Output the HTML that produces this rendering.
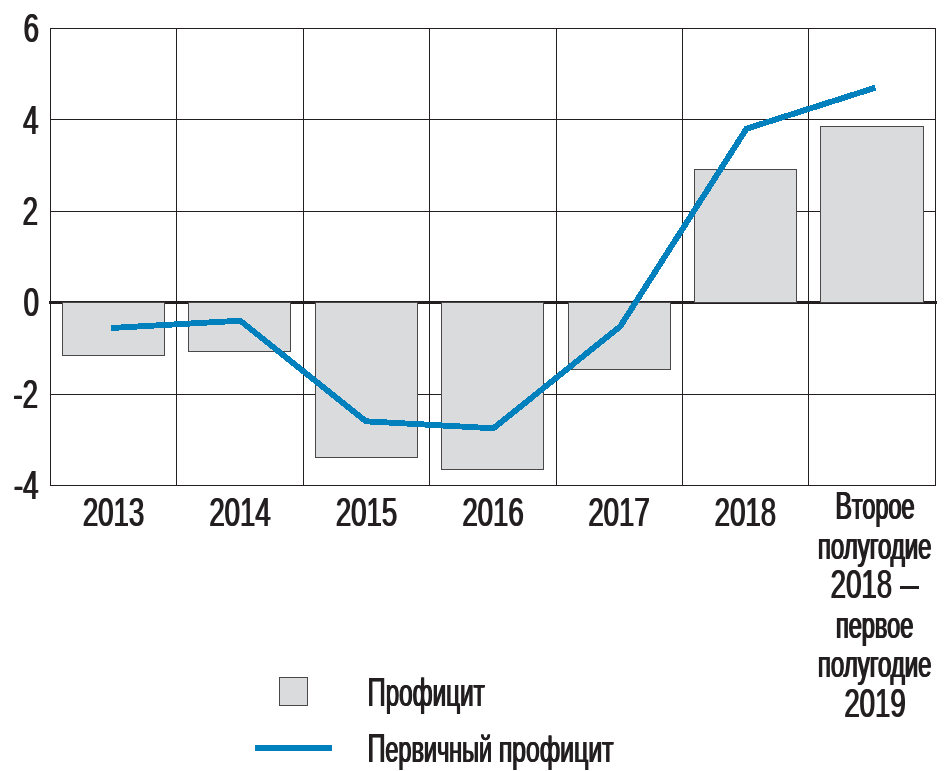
<!DOCTYPE html>
<html lang="ru"><head><meta charset="utf-8"><title>Chart</title>
<style>html,body{margin:0;padding:0;background:#fff;}body{width:948px;height:771px;overflow:hidden;}svg{display:block;will-change:transform;}text{font-family:"Liberation Sans",sans-serif;fill:#231f20;}</style>
</head><body>
<svg width="948" height="771" viewBox="0 0 948 771">
<rect x="0" y="0" width="948" height="771" fill="#ffffff"/>
<g stroke="#231f20" stroke-width="1" fill="none" shape-rendering="crispEdges">
<line x1="50.5" y1="28" x2="50.5" y2="486"/>
<line x1="176.5" y1="28" x2="176.5" y2="486"/>
<line x1="303.5" y1="28" x2="303.5" y2="486"/>
<line x1="429.5" y1="28" x2="429.5" y2="486"/>
<line x1="556.5" y1="28" x2="556.5" y2="486"/>
<line x1="682.5" y1="28" x2="682.5" y2="486"/>
<line x1="808.5" y1="28" x2="808.5" y2="486"/>
<line x1="935.5" y1="28" x2="935.5" y2="486"/>
<line x1="50" y1="28.5" x2="936" y2="28.5"/>
<line x1="50" y1="119.5" x2="936" y2="119.5"/>
<line x1="50" y1="211.5" x2="936" y2="211.5"/>
<line x1="50" y1="394.5" x2="936" y2="394.5"/>
<line x1="50" y1="485.5" x2="936" y2="485.5"/>
</g>
<rect x="49" y="301" width="888" height="3" fill="#231f20"/>
<g fill="#dadbdc" stroke="#4a4748" stroke-width="1" shape-rendering="crispEdges">
<rect x="62.5" y="302.5" width="102.0" height="53.0"/>
<rect x="188.5" y="302.5" width="102.0" height="49.0"/>
<rect x="315.5" y="302.5" width="102.0" height="155.0"/>
<rect x="441.5" y="302.5" width="102.0" height="167.0"/>
<rect x="568.5" y="302.5" width="102.0" height="67.0"/>
<rect x="694.5" y="169.5" width="102.0" height="133.0"/>
<rect x="820.5" y="126.5" width="103.0" height="176.0"/>
</g>
<polyline fill="none" stroke="#0080bc" stroke-width="5.9" stroke-linejoin="miter" stroke-linecap="butt" shape-rendering="crispEdges" points="111,328 240.3,320.7 365.8,421.3 493.5,428.3 620.3,326.3 746.5,128.7 875.3,87.7"/>
<text transform="translate(38.40,42.2) scale(0.67,1)" font-size="41.2" text-anchor="end">6</text>
<text aria-hidden="true" transform="translate(39.60,42.2) scale(0.67,1)" font-size="41.2" text-anchor="end">6</text>
<text transform="translate(37.90,133.9) scale(0.67,1)" font-size="41.2" text-anchor="end">4</text>
<text aria-hidden="true" transform="translate(39.10,133.9) scale(0.67,1)" font-size="41.2" text-anchor="end">4</text>
<text transform="translate(37.40,225) scale(0.67,1)" font-size="41.2" text-anchor="end">2</text>
<text aria-hidden="true" transform="translate(38.60,225) scale(0.67,1)" font-size="41.2" text-anchor="end">2</text>
<text transform="translate(38.40,316.3) scale(0.67,1)" font-size="41.2" text-anchor="end">0</text>
<text aria-hidden="true" transform="translate(39.60,316.3) scale(0.67,1)" font-size="41.2" text-anchor="end">0</text>
<text transform="translate(37.40,407.8) scale(0.67,1)" font-size="41.2" text-anchor="end">-2</text>
<text aria-hidden="true" transform="translate(38.60,407.8) scale(0.67,1)" font-size="41.2" text-anchor="end">-2</text>
<text transform="translate(37.90,499) scale(0.67,1)" font-size="41.2" text-anchor="end">-4</text>
<text aria-hidden="true" transform="translate(39.10,499) scale(0.67,1)" font-size="41.2" text-anchor="end">-4</text>
<text transform="translate(112.90,526) scale(0.6815,1)" font-size="40.5" text-anchor="middle">2013</text>
<text aria-hidden="true" transform="translate(114.10,526) scale(0.6815,1)" font-size="40.5" text-anchor="middle">2013</text>
<text transform="translate(239.40,526) scale(0.6815,1)" font-size="40.5" text-anchor="middle">2014</text>
<text aria-hidden="true" transform="translate(240.60,526) scale(0.6815,1)" font-size="40.5" text-anchor="middle">2014</text>
<text transform="translate(365.90,526) scale(0.6815,1)" font-size="40.5" text-anchor="middle">2015</text>
<text aria-hidden="true" transform="translate(367.10,526) scale(0.6815,1)" font-size="40.5" text-anchor="middle">2015</text>
<text transform="translate(492.40,526) scale(0.6815,1)" font-size="40.5" text-anchor="middle">2016</text>
<text aria-hidden="true" transform="translate(493.60,526) scale(0.6815,1)" font-size="40.5" text-anchor="middle">2016</text>
<text transform="translate(618.40,526) scale(0.6815,1)" font-size="40.5" text-anchor="middle">2017</text>
<text aria-hidden="true" transform="translate(619.60,526) scale(0.6815,1)" font-size="40.5" text-anchor="middle">2017</text>
<text transform="translate(744.80,526) scale(0.6815,1)" font-size="40.5" text-anchor="middle">2018</text>
<text aria-hidden="true" transform="translate(746.00,526) scale(0.6815,1)" font-size="40.5" text-anchor="middle">2018</text>
<text transform="translate(860.80,598) scale(0.6815,1)" font-size="40.5" text-anchor="middle">2018</text>
<text aria-hidden="true" transform="translate(862.00,598) scale(0.6815,1)" font-size="40.5" text-anchor="middle">2018</text>
<rect x="900" y="586" width="19" height="3" fill="#231f20"/>
<text transform="translate(874.40,717) scale(0.6815,1)" font-size="40.5" text-anchor="middle">2019</text>
<text aria-hidden="true" transform="translate(875.60,717) scale(0.6815,1)" font-size="40.5" text-anchor="middle">2019</text>
<rect x="279.5" y="677.5" width="28" height="28" fill="#dadbdc" stroke="#4a4748" stroke-width="1" shape-rendering="crispEdges"/>
<rect x="255" y="745" width="77" height="6" fill="#0080bc"/>
<text transform="translate(834.81,519) scale(0.6251,1)" font-size="39.3"><tspan font-size="39.3">В</tspan><tspan font-size="37.5">торое</tspan></text>
<text aria-hidden="true" transform="translate(835.51,519) scale(0.6251,1)" font-size="39.3"><tspan font-size="39.3">В</tspan><tspan font-size="37.5">торое</tspan></text>
<text aria-hidden="true" transform="translate(836.21,519) scale(0.6251,1)" font-size="39.3"><tspan font-size="39.3">В</tspan><tspan font-size="37.5">торое</tspan></text>
<text transform="translate(817.20,558.7) scale(0.6403,1)" font-size="37.5">полугодие</text>
<text aria-hidden="true" transform="translate(817.90,558.7) scale(0.6403,1)" font-size="37.5">полугодие</text>
<text aria-hidden="true" transform="translate(818.60,558.7) scale(0.6403,1)" font-size="37.5">полугодие</text>
<text transform="translate(835.23,637.6) scale(0.6288,1)" font-size="37.5">первое</text>
<text aria-hidden="true" transform="translate(835.93,637.6) scale(0.6288,1)" font-size="37.5">первое</text>
<text aria-hidden="true" transform="translate(836.63,637.6) scale(0.6288,1)" font-size="37.5">первое</text>
<text transform="translate(817.20,677.4) scale(0.6403,1)" font-size="37.5">полугодие</text>
<text aria-hidden="true" transform="translate(817.90,677.4) scale(0.6403,1)" font-size="37.5">полугодие</text>
<text aria-hidden="true" transform="translate(818.60,677.4) scale(0.6403,1)" font-size="37.5">полугодие</text>
<text transform="translate(366.88,705.8) scale(0.6122,1)" font-size="41.5"><tspan font-size="41.5">П</tspan><tspan font-size="39.6">рофицит</tspan></text>
<text aria-hidden="true" transform="translate(367.50,705.8) scale(0.6122,1)" font-size="41.5"><tspan font-size="41.5">П</tspan><tspan font-size="39.6">рофицит</tspan></text>
<text aria-hidden="true" transform="translate(368.12,705.8) scale(0.6122,1)" font-size="41.5"><tspan font-size="41.5">П</tspan><tspan font-size="39.6">рофицит</tspan></text>
<text transform="translate(366.97,761.7) scale(0.6214,1)" font-size="40"><tspan font-size="40">П</tspan><tspan font-size="37.7">ервичный</tspan></text>
<text aria-hidden="true" transform="translate(367.59,761.7) scale(0.6214,1)" font-size="40"><tspan font-size="40">П</tspan><tspan font-size="37.7">ервичный</tspan></text>
<text aria-hidden="true" transform="translate(368.21,761.7) scale(0.6214,1)" font-size="40"><tspan font-size="40">П</tspan><tspan font-size="37.7">ервичный</tspan></text>
<text transform="translate(498.14,761.7) scale(0.6584,1)" font-size="37.7">профицит</text>
<text aria-hidden="true" transform="translate(498.76,761.7) scale(0.6584,1)" font-size="37.7">профицит</text>
<text aria-hidden="true" transform="translate(499.38,761.7) scale(0.6584,1)" font-size="37.7">профицит</text>
</svg></body></html>
